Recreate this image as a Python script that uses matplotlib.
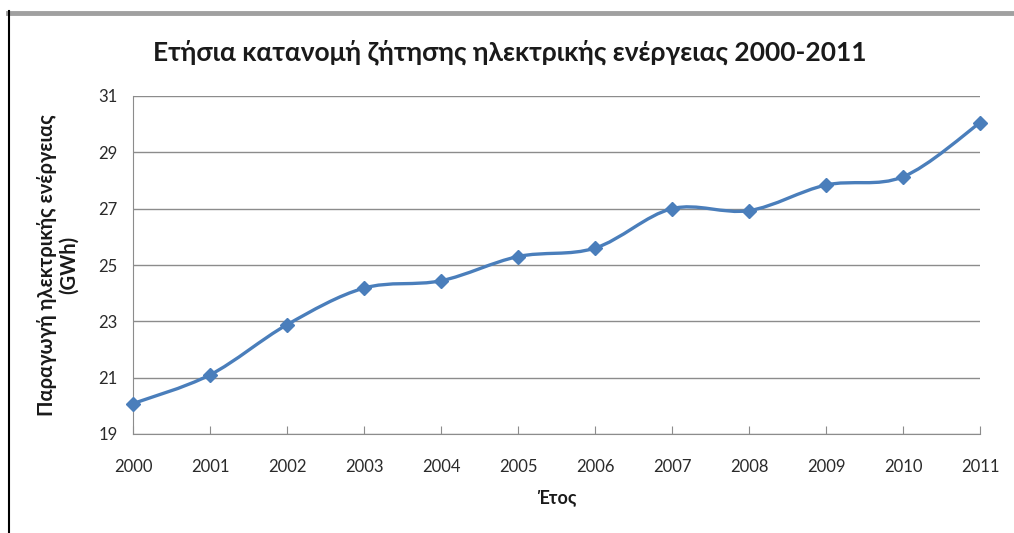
import matplotlib.pyplot as plt
from matplotlib.path import Path
from matplotlib.patches import PathPatch
from matplotlib.lines import Line2D

years = [2000, 2001, 2002, 2003, 2004, 2005, 2006, 2007, 2008, 2009, 2010, 2011]
demand = [20.08, 21.1, 22.88, 24.18, 24.44, 25.3, 25.6, 27.0, 26.93, 27.84, 28.13, 30.05]
yticks = [19, 21, 23, 25, 27, 29, 31]

title = "Ετήσια κατανομή ζήτησης ηλεκτρικής ενέργειας 2000-2011"
ylabel = "Παραγωγή ηλεκτρικής ενέργειας\n(GWh)"
xlabel = "Έτος"

blue = "#4A7EBB"
plt.rcParams['font.family'] = ['Lato', 'DejaVu Sans']

fig = plt.figure(figsize=(10.14, 5.33), dpi=100)
ax = fig.add_axes([133 / 1014, 99 / 533, 847 / 1014, 338 / 533])

# smoothed line (Excel-style bezier through the points)
pts = list(zip(years, demand))
verts = [pts[0]]
codes = [Path.MOVETO]
n = len(pts)
for i in range(n - 1):
    p0 = pts[i - 1] if i > 0 else pts[i]
    p1 = pts[i]
    p2 = pts[i + 1]
    p3 = pts[i + 2] if i + 2 < n else pts[i + 1]
    c1 = (p1[0] + (p2[0] - p0[0]) / 6, p1[1] + (p2[1] - p0[1]) / 6)
    c2 = (p2[0] - (p3[0] - p1[0]) / 6, p2[1] - (p3[1] - p1[1]) / 6)
    verts += [c1, c2, p2]
    codes += [Path.CURVE4] * 3
ax.add_patch(PathPatch(Path(verts, codes), facecolor='none', edgecolor=blue,
                       lw=2.4, zorder=3, clip_on=False))
ax.plot(years, demand, linestyle='none', marker='D', markersize=7.5,
        color=blue, zorder=4, clip_on=False)

ax.set_xlim(2000, 2011)
ax.set_ylim(19, 31)
ax.set_xticks(years)
ax.set_yticks(yticks)
ax.grid(axis='y', color='#8c8c8c', lw=1)
ax.set_axisbelow(True)
for s in ['top', 'right']:
    ax.spines[s].set_visible(False)
for s in ['left', 'bottom']:
    ax.spines[s].set_color('#8c8c8c')
ax.tick_params(axis='y', length=0, pad=11, labelsize=12, labelcolor='#2a2a2a')
ax.tick_params(axis='x', direction='in', length=6, color='#8c8c8c', pad=18,
               labelsize=12, labelcolor='#2a2a2a')

fig.text(510 / 1014, 1 - 52 / 533, title, fontsize=19, fontweight='bold',
         color='#1a1a1a', ha='center', va='center')
ax.set_ylabel(ylabel, fontsize=14.5, fontweight='bold', labelpad=14, color='#1a1a1a',
              linespacing=1.1)
ax.set_xlabel(xlabel, fontsize=13, fontweight='bold', labelpad=10, color='#1a1a1a')

# screenshot frame
fig.add_artist(Line2D([8 / 1014, 1], [1 - 12.5 / 533] * 2, color='#a0a0a0', lw=3.5,
                      transform=fig.transFigure))
fig.add_artist(Line2D([9 / 1014] * 2, [0, 1 - 11 / 533], color='black', lw=1.5,
                      transform=fig.transFigure))

fig.savefig('out.png', dpi=100)
